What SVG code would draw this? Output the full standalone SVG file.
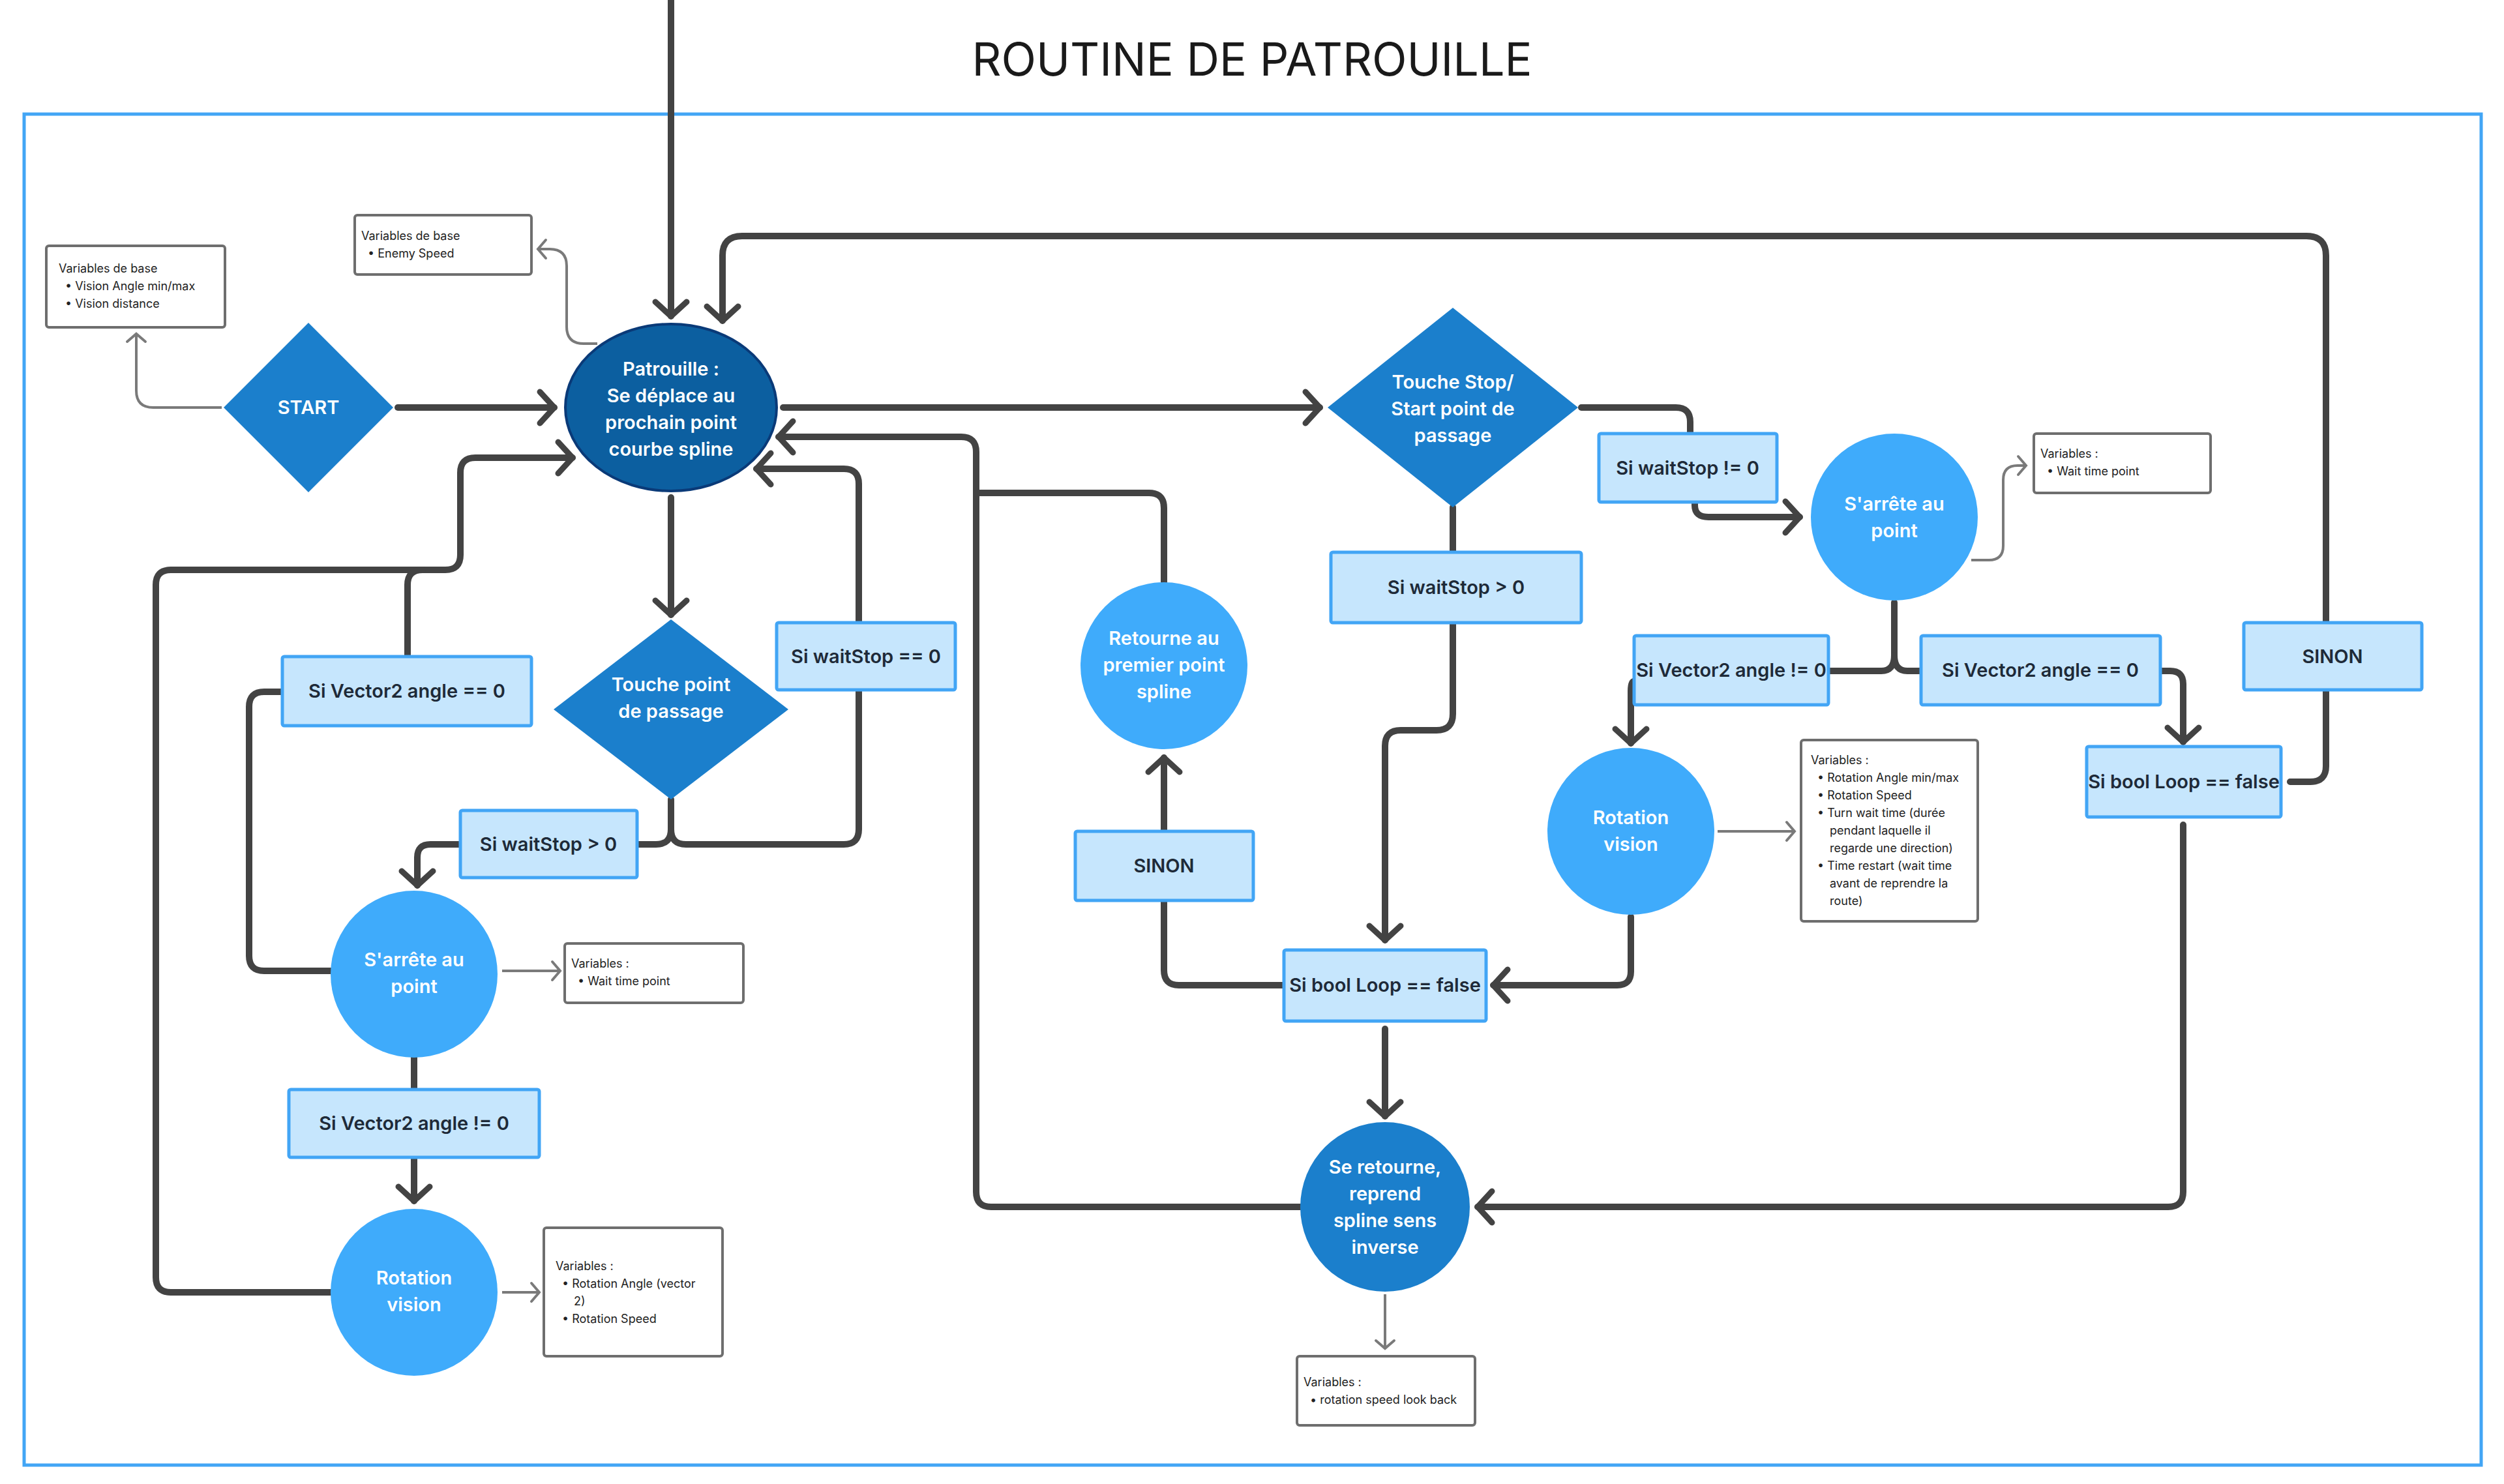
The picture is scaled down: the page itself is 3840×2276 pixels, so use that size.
<svg xmlns="http://www.w3.org/2000/svg" width="3840" height="2276" viewBox="0 0 3840 2276">
<style>
.c{fill:none;stroke:#434343;stroke-width:10;stroke-linejoin:round;stroke-linecap:round}
.t{fill:none;stroke:#7a7a7a;stroke-width:4;stroke-linejoin:round}
.cond{fill:#c6e6fd;stroke:#42a5f5;stroke-width:5}
.var{fill:#fff;stroke:#6e6e6e;stroke-width:4}
.lt{font-family:Inter,"Liberation Sans",sans-serif;font-weight:600;font-size:29px;fill:#1e2a38;text-anchor:middle}
.wt{font-family:Inter,"Liberation Sans",sans-serif;font-weight:600;font-size:29px;fill:#fff;text-anchor:middle}
.vt{font-family:Inter,"Liberation Sans",sans-serif;font-size:18px;fill:#222}
</style>
<defs>
<marker id="a" markerUnits="userSpaceOnUse" viewBox="-30 -30 40 60" markerWidth="40" markerHeight="60" refX="0" refY="0" orient="auto"><path d="M-22,-24 L0,0 L-22,24" fill="none" stroke="#434343" stroke-width="9" stroke-linecap="round" stroke-linejoin="round"/></marker>
<marker id="g" markerUnits="userSpaceOnUse" viewBox="-20 -20 25 40" markerWidth="25" markerHeight="40" refX="0" refY="0" orient="auto"><path d="M-12,-14 L0,0 L-12,14" fill="none" stroke="#7a7a7a" stroke-width="4" stroke-linecap="round"/></marker>
</defs>
<rect width="3840" height="2276" fill="#fff"/>
<text x="1920" y="116" font-family="Inter,'Liberation Sans',sans-serif" font-size="70" fill="#1a1a1a" text-anchor="middle">ROUTINE DE PATROUILLE</text>
<rect x="37" y="175" width="3768" height="2072" fill="none" stroke="#42a5f5" stroke-width="5"/>

<g id="connectors">
<path class="c" d="M1029,0 V485" marker-end="url(#a)"/>
<path class="c" d="M3567,955 V392 Q3567,362 3537,362 H1138 Q1108,362 1108,392 V492" marker-end="url(#a)"/>
<path class="c" d="M3567,1058 V1175 Q3567,1199 3543,1199 H3512"/>
<path class="c" d="M610,625 H850" marker-end="url(#a)"/>
<path class="c" d="M1201,625 H2024" marker-end="url(#a)"/>
<path class="c" d="M2425,625 H2570 Q2592,625 2592,647 V665"/>
<path class="c" d="M2599,770 V775 Q2599,793 2620,793 H2760" marker-end="url(#a)"/>
<path class="c" d="M2905,924 V1005 Q2905,1029 2885,1029 H2806"/>
<path class="c" d="M2905,1005 Q2905,1029 2925,1029 H2946"/>
<path class="c" d="M2506,1045 Q2501,1045 2501,1060 V1140" marker-end="url(#a)"/>
<path class="c" d="M3315,1029 H3328 Q3348,1029 3348,1049 V1138" marker-end="url(#a)"/>
<path class="c" d="M2501,1406 V1490 Q2501,1511 2480,1511 H2290" marker-end="url(#a)"/>
<path class="c" d="M2228,778 V847"/>
<path class="c" d="M2228,955 V1095 Q2228,1120 2203,1120 H2148 Q2124,1120 2124,1144 V1442" marker-end="url(#a)"/>
<path class="c" d="M2124,1578 V1712" marker-end="url(#a)"/>
<path class="c" d="M1969,1511 H1808 Q1785,1511 1785,1488 V1383"/>
<path class="c" d="M1785,1275 V1162" marker-end="url(#a)"/>
<path class="c" d="M1994,1851 H1520 Q1497,1851 1497,1828 V693 Q1497,670 1474,670 H1194" marker-end="url(#a)"/>
<path class="c" d="M1785,893 V779 Q1785,756 1762,756 H1497"/>
<path class="c" d="M3348,1265 V1828 Q3348,1851 3325,1851 H2266" marker-end="url(#a)"/>
<path class="c" d="M1029,763 V943" marker-end="url(#a)"/>
<path class="c" d="M1317,955 V742 Q1317,719 1294,719 H1160" marker-end="url(#a)"/>
<path class="c" d="M1317,1058 V1272 Q1317,1295 1294,1295 H1052 Q1029,1295 1029,1272 V1226"/>
<path class="c" d="M1029,1272 Q1029,1295 1006,1295 H977"/>
<path class="c" d="M706,1295 H660 Q640,1295 640,1315 V1358" marker-end="url(#a)"/>
<path class="c" d="M507,1982 H262 Q239,1982 239,1959 V897 Q239,874 262,874 H683 Q706,874 706,851 V725 Q706,702 729,702 H878" marker-end="url(#a)"/>
<path class="c" d="M625,1007 V897 Q625,874 648,874"/>
<path class="c" d="M433,1061 H405 Q382,1061 382,1084 V1466 Q382,1489 405,1489 H507"/>
<path class="c" d="M635,1622 V1671"/>
<path class="c" d="M635,1775 V1842" marker-end="url(#a)"/>
<path class="t" d="M340,625 H235 Q209,625 209,599 V512" marker-end="url(#g)"/>
<path class="t" d="M916,527 H895 Q869,527 869,501 V408 Q869,382 843,382 H825" marker-end="url(#g)"/>
<path class="t" d="M3023,859 H3050 Q3072,859 3072,837 V736 Q3072,714 3094,714 H3107" marker-end="url(#g)"/>
<path class="t" d="M2634,1275 H2752" marker-end="url(#g)"/>
<path class="t" d="M2124,1985 V2068" marker-end="url(#g)"/>
<path class="t" d="M770,1489 H859" marker-end="url(#g)"/>
<path class="t" d="M770,1982 H827" marker-end="url(#g)"/>
</g>

<g id="start"><polygon points="473,495 603,625 473,755 343,625" fill="#1b7fcc"/><text class="wt" x="473" y="635">START</text></g>
<g id="patrouille"><ellipse cx="1029" cy="625" rx="162" ry="128" fill="#0c5fa0" stroke="#0a3a78" stroke-width="4"/>
<text class="wt" x="1029" y="576">Patrouille :</text><text class="wt" x="1029" y="617" font-weight="500">Se déplace au</text><text class="wt" x="1029" y="658" font-weight="500">prochain point</text><text class="wt" x="1029" y="699" font-weight="500">courbe spline</text></g>
<g id="var1"><rect class="var" x="71" y="377" width="274" height="125" rx="4"/><text class="vt" x="90" y="418">Variables de base</text><text class="vt" x="100" y="445">•  Vision Angle min/max</text><text class="vt" x="100" y="472">•  Vision distance</text></g>
<g id="var2"><rect class="var" x="544" y="330" width="271" height="91" rx="4"/><text class="vt" x="554" y="368">Variables de base</text><text class="vt" x="564" y="395">•  Enemy Speed</text></g>
<g id="touche"><polygon points="1029,950 1209,1088 1029,1226 849,1088" fill="#1b7fcc"/><text class="wt" x="1029" y="1060">Touche point</text><text class="wt" x="1029" y="1101">de passage</text></g>
<g id="ws0"><rect class="cond" x="1191" y="955" width="274" height="103" rx="3"/><text class="lt" x="1328" y="1017">Si waitStop == 0</text></g>
<g id="v0l"><rect class="cond" x="433" y="1007" width="382" height="106" rx="3"/><text class="lt" x="624" y="1070">Si Vector2 angle == 0</text></g>
<g id="wsgl"><rect class="cond" x="706" y="1243" width="271" height="103" rx="3"/><text class="lt" x="841" y="1305">Si waitStop &gt; 0</text></g>
<g id="stopl"><circle cx="635" cy="1494" r="128" fill="#3fabfb"/><text class="wt" x="635" y="1482">S'arrête au</text><text class="wt" x="635" y="1523">point</text></g>
<g id="var3"><rect class="var" x="866" y="1447" width="274" height="91" rx="4"/><text class="vt" x="876" y="1484">Variables :</text><text class="vt" x="886" y="1511">•  Wait time point</text></g>
<g id="vnl"><rect class="cond" x="443" y="1671" width="384" height="104" rx="3"/><text class="lt" x="635" y="1733">Si Vector2 angle != 0</text></g>
<g id="rotl"><circle cx="635" cy="1982" r="128" fill="#3fabfb"/><text class="wt" x="635" y="1970">Rotation</text><text class="wt" x="635" y="2011">vision</text></g>
<g id="var4"><rect class="var" x="834" y="1883" width="274" height="197" rx="4"/><text class="vt" x="852" y="1948">Variables :</text><text class="vt" x="862" y="1975">•  Rotation Angle (vector</text><text class="vt" x="880" y="2002">2)</text><text class="vt" x="862" y="2029">•  Rotation Speed</text></g>
<g id="retourne"><circle cx="1785" cy="1021" r="128" fill="#3fabfb"/><text class="wt" x="1785" y="989">Retourne au</text><text class="wt" x="1785" y="1030">premier point</text><text class="wt" x="1785" y="1071">spline</text></g>
<g id="sinonm"><rect class="cond" x="1649" y="1275" width="273" height="106" rx="3"/><text class="lt" x="1785" y="1338">SINON</text></g>
<g id="blm"><rect class="cond" x="1969" y="1457" width="310" height="109" rx="3"/><text class="lt" x="2124" y="1521">Si bool Loop == false</text></g>
<g id="seret"><circle cx="2124" cy="1851" r="130" fill="#1b7fcc"/><text class="wt" x="2124" y="1800">Se retourne,</text><text class="wt" x="2124" y="1841">reprend</text><text class="wt" x="2124" y="1882">spline sens</text><text class="wt" x="2124" y="1923">inverse</text></g>
<g id="var5"><rect class="var" x="1989" y="2080" width="273" height="106" rx="4"/><text class="vt" x="1999" y="2126">Variables :</text><text class="vt" x="2009" y="2153">•  rotation speed look back</text></g>
<g id="touchestop"><polygon points="2228,472 2420,625 2228,778 2036,625" fill="#1b7fcc"/><text class="wt" x="2228" y="596">Touche Stop/</text><text class="wt" x="2228" y="637">Start point de</text><text class="wt" x="2228" y="678">passage</text></g>
<g id="wsgr"><rect class="cond" x="2041" y="847" width="384" height="108" rx="3"/><text class="lt" x="2233" y="911">Si waitStop &gt; 0</text></g>
<g id="wsn"><rect class="cond" x="2452" y="665" width="273" height="105" rx="3"/><text class="lt" x="2588" y="728">Si waitStop != 0</text></g>
<g id="stopr"><circle cx="2905" cy="793" r="128" fill="#3fabfb"/><text class="wt" x="2905" y="783">S'arrête au</text><text class="wt" x="2905" y="824">point</text></g>
<g id="var6"><rect class="var" x="3119" y="665" width="271" height="91" rx="4"/><text class="vt" x="3129" y="702">Variables :</text><text class="vt" x="3139" y="729">•  Wait time point</text></g>
<g id="vnr"><rect class="cond" x="2506" y="975" width="298" height="106" rx="3"/><text class="lt" x="2655" y="1038">Si Vector2 angle != 0</text></g>
<g id="v0r"><rect class="cond" x="2946" y="975" width="367" height="106" rx="3"/><text class="lt" x="3129" y="1038">Si Vector2 angle == 0</text></g>
<g id="sinonr"><rect class="cond" x="3441" y="955" width="273" height="103" rx="3"/><text class="lt" x="3577" y="1017">SINON</text></g>
<g id="blr"><rect class="cond" x="3200" y="1145" width="298" height="108" rx="3"/><text class="lt" x="3349" y="1209">Si bool Loop == false</text></g>
<g id="rotr"><circle cx="2501" cy="1275" r="128" fill="#3fabfb"/><text class="wt" x="2501" y="1264">Rotation</text><text class="wt" x="2501" y="1305">vision</text></g>
<g id="var7"><rect class="var" x="2762" y="1135" width="271" height="278" rx="4"/><text class="vt" x="2777" y="1172">Variables :</text><text class="vt" x="2787" y="1199">•  Rotation Angle min/max</text><text class="vt" x="2787" y="1226">•  Rotation Speed</text><text class="vt" x="2787" y="1253">•  Turn wait time (durée</text><text class="vt" x="2806" y="1280">pendant laquelle il</text><text class="vt" x="2806" y="1307">regarde une direction)</text><text class="vt" x="2787" y="1334">•  Time restart (wait time</text><text class="vt" x="2806" y="1361">avant de reprendre la</text><text class="vt" x="2806" y="1388">route)</text></g>
</svg>
